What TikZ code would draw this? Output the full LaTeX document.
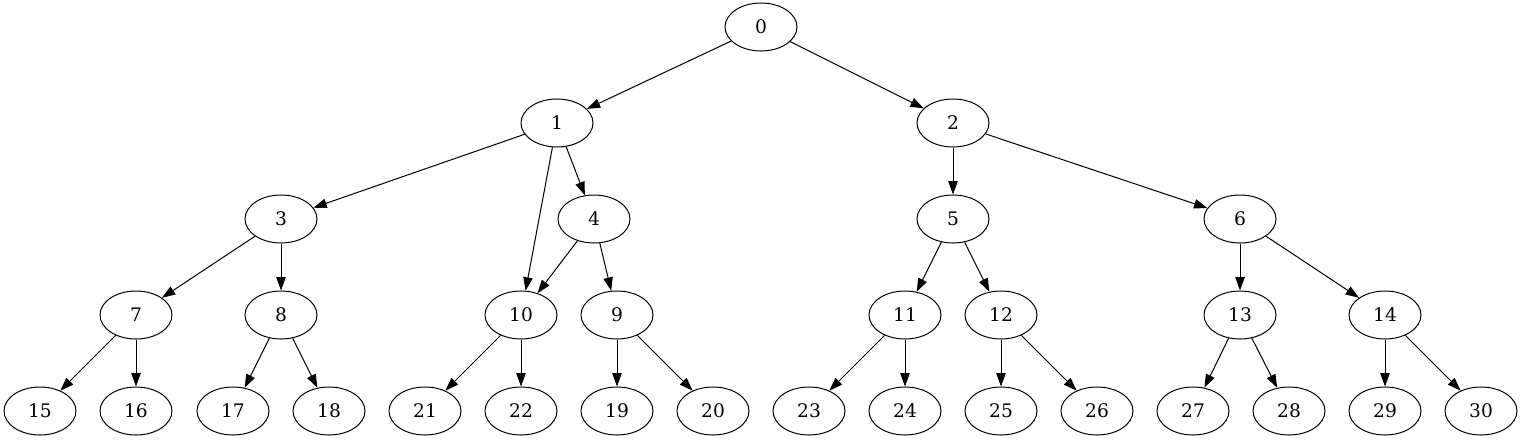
\documentclass[tikz,border=0pt]{standalone}
\usepackage{fontspec}
\setmainfont{DejaVu Serif}
\usetikzlibrary{arrows.meta, shapes.geometric}

\begin{document}
\begin{tikzpicture}[x=0.75pt, y=-0.75pt,
        vertex/.style={draw, ellipse, minimum width=54pt, minimum height=36pt, inner sep=0pt, line width=0.75pt, font=\fontsize{14}{16}\selectfont},
        edge/.style={-{Triangle[length=10pt, width=7pt]}, line width=0.75pt}]
        \useasboundingbox (0, 0) rectangle (1523, 443);

        \node[vertex] (n0) at (761, 27) {0};

        \node[vertex] (n1) at (557, 123) {1};
        \node[vertex] (n2) at (953, 123) {2};

        \node[vertex] (n3) at (281, 219) {3};
        \node[vertex] (n4) at (594, 219) {4};
        \node[vertex] (n5) at (953, 219) {5};
        \node[vertex] (n6) at (1240, 219) {6};

        \node[vertex] (n7) at (136, 315) {7};
        \node[vertex] (n8) at (281, 315) {8};
        \node[vertex] (n10) at (521, 315) {10};
        \node[vertex] (n9) at (617, 315) {9};
        \node[vertex] (n11) at (905, 315) {11};
        \node[vertex] (n12) at (1001, 315) {12};
        \node[vertex] (n13) at (1240, 315) {13};
        \node[vertex] (n14) at (1385, 315) {14};

        \node[vertex] (n15) at (40, 411) {15};
        \node[vertex] (n16) at (136, 411) {16};
        \node[vertex] (n17) at (233, 411) {17};
        \node[vertex] (n18) at (329, 411) {18};
        \node[vertex] (n21) at (425, 411) {21};
        \node[vertex] (n22) at (521, 411) {22};
        \node[vertex] (n19) at (617, 411) {19};
        \node[vertex] (n20) at (713, 411) {20};
        \node[vertex] (n23) at (809, 411) {23};
        \node[vertex] (n24) at (905, 411) {24};
        \node[vertex] (n25) at (1001, 411) {25};
        \node[vertex] (n26) at (1097, 411) {26};
        \node[vertex] (n27) at (1193, 411) {27};
        \node[vertex] (n28) at (1289, 411) {28};
        \node[vertex] (n29) at (1385, 411) {29};
        \node[vertex] (n30) at (1481, 411) {30};

        \draw[edge] (n0) -- (n1);
        \draw[edge] (n0) -- (n2);
        \draw[edge] (n1) -- (n3);
        \draw[edge] (n1) -- (n10);
        \draw[edge] (n1) -- (n4);
        \draw[edge] (n2) -- (n5);
        \draw[edge] (n2) -- (n6);
        \draw[edge] (n3) -- (n7);
        \draw[edge] (n3) -- (n8);
        \draw[edge] (n4) -- (n10);
        \draw[edge] (n4) -- (n9);
        \draw[edge] (n5) -- (n11);
        \draw[edge] (n5) -- (n12);
        \draw[edge] (n6) -- (n13);
        \draw[edge] (n6) -- (n14);
        \draw[edge] (n7) -- (n15);
        \draw[edge] (n7) -- (n16);
        \draw[edge] (n8) -- (n17);
        \draw[edge] (n8) -- (n18);
        \draw[edge] (n10) -- (n21);
        \draw[edge] (n10) -- (n22);
        \draw[edge] (n9) -- (n19);
        \draw[edge] (n9) -- (n20);
        \draw[edge] (n11) -- (n23);
        \draw[edge] (n11) -- (n24);
        \draw[edge] (n12) -- (n25);
        \draw[edge] (n12) -- (n26);
        \draw[edge] (n13) -- (n27);
        \draw[edge] (n13) -- (n28);
        \draw[edge] (n14) -- (n29);
        \draw[edge] (n14) -- (n30);
    \end{tikzpicture}
\end{document}
